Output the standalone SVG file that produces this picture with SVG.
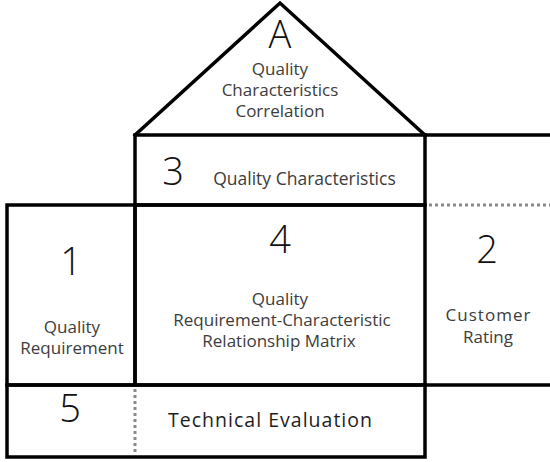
<svg xmlns="http://www.w3.org/2000/svg" width="550" height="462" viewBox="0 0 550 462">
  <style>
    .frame { fill: none; stroke: #000; stroke-width: 3.5; stroke-linejoin: miter; stroke-linecap: square; }
    .dots { fill: none; stroke: #8a8a8a; stroke-width: 3; stroke-dasharray: 3 3; }
    .num { font-family: "Open Sans", "Noto Sans", sans-serif; font-size: 38px; fill: #111; text-anchor: middle; font-weight: 300; }
    .lbl { font-family: "Open Sans", "Noto Sans", sans-serif; font-size: 17px; fill: #3c3c3c; text-anchor: middle; }
    .lbl2 { font-family: "Open Sans", "Noto Sans", sans-serif; font-size: 19.5px; fill: #1e1e1e; text-anchor: middle; }
  </style>
  <rect width="550" height="462" fill="#fff"/>

  <!-- roof: correlation triangle -->
  <g id="node-A">
    <path class="frame" d="M135,135 L280,3 L425,135"/>
    <text class="num" x="280" y="48">A</text>
    <text class="lbl" x="280" y="75">Quality</text>
    <text class="lbl" x="280" y="96">Characteristics</text>
    <text class="lbl" x="280" y="117">Correlation</text>
  </g>

  <!-- 3: quality characteristics row -->
  <g id="node-3">
    <rect class="frame" x="135" y="135" width="290" height="70"/>
    <line class="frame" x1="425" y1="135" x2="552" y2="135"/>
    <text class="num" x="173" y="185">3</text>
    <text class="lbl" x="304.5" y="185" style="font-size:17.5px">Quality Characteristics</text>
  </g>

  <!-- 1: quality requirement column -->
  <g id="node-1">
    <rect class="frame" x="7" y="205" width="128" height="180"/>
    <text class="num" x="71" y="275">1</text>
    <text class="lbl" x="72" y="333">Quality</text>
    <text class="lbl" x="72" y="354">Requirement</text>
  </g>

  <!-- 4: relationship matrix -->
  <g id="node-4">
    <rect class="frame" x="135" y="205" width="290" height="180"/>
    <text class="num" x="280" y="253">4</text>
    <text class="lbl" x="280" y="305">Quality</text>
    <text class="lbl" x="282" y="326">Requirement-Characteristic</text>
    <text class="lbl" x="279" y="347">Relationship Matrix</text>
  </g>

  <!-- 2: customer rating column -->
  <g id="node-2">
    <line class="dots" x1="429" y1="205" x2="550" y2="205"/>
    <line class="frame" x1="425" y1="385" x2="552" y2="385"/>
    <text class="num" x="487" y="263">2</text>
    <text class="lbl" x="488" y="321" textLength="85">Customer</text>
    <text class="lbl" x="488" y="343">Rating</text>
  </g>

  <!-- 5: technical evaluation row -->
  <g id="node-5">
    <rect class="frame" x="7" y="385" width="418" height="72"/>
    <line class="dots" x1="135" y1="389" x2="135" y2="455"/>
    <text class="num" x="70" y="422">5</text>
    <text class="lbl2" x="270" y="427" textLength="204">Technical Evaluation</text>
  </g>

  <g id="connectors"></g>
</svg>
